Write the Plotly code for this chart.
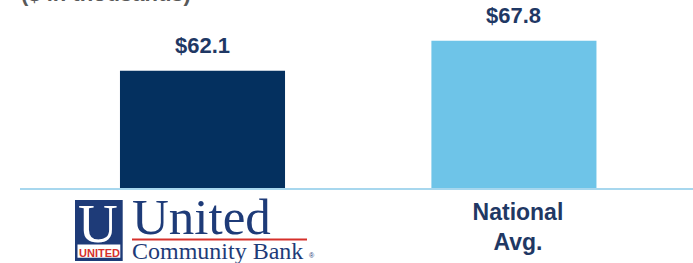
import plotly.graph_objects as go

categories = ["United Community Bank", "National Avg."]
values = [62.1, 67.8]
value_labels = ["$62.1", "$67.8"]
tick_labels = ["", "<b>National<br>Avg.</b>"]
bar_colors = ["#04305f", "#6ec4e8"]
unit_note = "($ in thousands)"

W, H = 693, 263
ML, MR, MT, MB = 20, 0, 0, 75
PW, PH = W - ML - MR, H - MT - MB

def xp(px):
    return (px - ML) / PW

def yp(py):
    return (MT + PH - py) / PH

SANS = "Liberation Sans, Arial, sans-serif"
SERIF = "Liberation Serif, Times New Roman, serif"
LABEL = "#1f3864"
LOGO_NAVY = "#1e3b78"
LOGO_RED = "#d6302b"

fig = go.Figure(go.Bar(
    x=categories, y=values, marker_color=bar_colors, width=0.53,
    marker_line_width=0, hoverinfo="skip",
))

annotations = []
for c, v, t in zip(categories, values, value_labels):
    annotations.append(dict(x=c, y=v, xref="x", yref="y", text=f"<b>{t}</b>",
                            showarrow=False, yanchor="bottom", yshift=11,
                            font=dict(family=SANS, size=22, color=LABEL)))

# unit note, cut off at the top
annotations.append(dict(x=xp(19), y=yp(-6.8), xref="paper", yref="paper",
                        text=f"<b>{unit_note}</b>", showarrow=False,
                        xanchor="left", yanchor="middle",
                        font=dict(family=SANS, size=22, color="#595959")))

# logo texts
annotations += [
    dict(x=xp(97.5), y=yp(223.3), xref="paper", yref="paper", text="U",
         showarrow=False, xanchor="center", yanchor="middle",
         font=dict(family=SERIF, size=55, color="white")),
    dict(x=xp(99), y=yp(252.5), xref="paper", yref="paper", text="<b>UNITED</b>",
         showarrow=False, xanchor="center", yanchor="middle",
         font=dict(family=SANS, size=11, color=LOGO_RED)),
    dict(x=xp(130), y=yp(216.5), xref="paper", yref="paper", text="United",
         showarrow=False, xanchor="left", yanchor="middle",
         font=dict(family=SERIF, size=51, color=LOGO_NAVY)),
    dict(x=xp(130), y=yp(250.5), xref="paper", yref="paper", text="Community Bank",
         showarrow=False, xanchor="left", yanchor="middle",
         font=dict(family=SERIF, size=24, color=LOGO_NAVY)),
    dict(x=xp(312), y=yp(255), xref="paper", yref="paper", text="®",
         showarrow=False, xanchor="center", yanchor="middle",
         font=dict(family=SANS, size=7, color=LOGO_NAVY)),
]

shapes = [
    dict(type="rect", xref="paper", yref="paper", x0=xp(75), x1=xp(122.7),
         y0=yp(261), y1=yp(200), fillcolor=LOGO_NAVY, line_width=0, layer="above"),
    dict(type="rect", xref="paper", yref="paper", x0=xp(77.5), x1=xp(120.3),
         y0=yp(257.7), y1=yp(244.5), fillcolor="white", line_width=0, layer="above"),
    dict(type="line", xref="paper", yref="paper", x0=xp(132), x1=xp(307),
         y0=yp(239.5), y1=yp(239.5), line=dict(color=LOGO_RED, width=2), layer="above"),
]

fig.update_layout(
    width=W, height=H,
    margin=dict(l=ML, r=MR, t=MT, b=MB, pad=0),
    paper_bgcolor="white", plot_bgcolor="white",
    showlegend=False,
    annotations=annotations, shapes=shapes,
    xaxis=dict(type="category", range=[-0.586, 1.575], showgrid=False,
               showline=True, linecolor="#a7d7ee", linewidth=2, ticks="",
               tickvals=categories, ticktext=tick_labels, ticklabelstandoff=2,
               ticklabelshift=4,
               tickfont=dict(family=SANS, size=23, color=LABEL),
               zeroline=False, fixedrange=True),
    yaxis=dict(range=[40, 40 + PH / 5.3], visible=False, showgrid=False,
               zeroline=False, fixedrange=True),
)

fig.write_html("out.html", config={"displayModeBar": False},
               post_script="document.body.style.margin='0';document.body.style.overflow='hidden';")
